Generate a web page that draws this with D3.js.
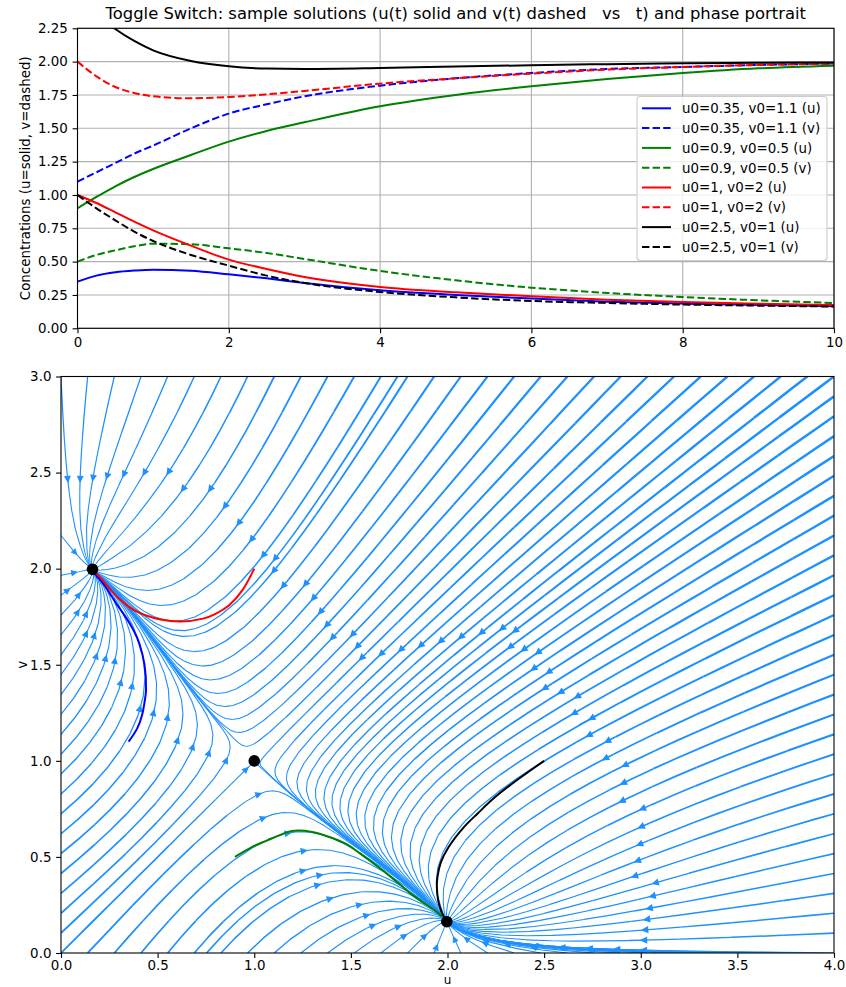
<!DOCTYPE html>
<html>
<head>
<meta charset="utf-8">
<script src="https://cdn.jsdelivr.net/npm/d3@7"></script>
<style>
html,body{margin:0;padding:0;background:#fff;}
svg{display:block;}
text{font-family:"DejaVu Sans",Verdana,sans-serif;fill:#000;}
</style>
</head>
<body>
<svg id="fig" width="846" height="987" xmlns="http://www.w3.org/2000/svg"></svg>
<script>
// ---------------- data ----------------
const titleText = "Toggle Switch: sample solutions (u(t) solid and v(t) dashed   vs   t) and phase portrait";
const tSamples = [0, 0.25, 0.5, 0.75, 1, 1.5, 2, 2.5, 3, 4, 5, 6, 7, 8, 9, 10];
const uBlue  = [0.35, 0.395, 0.42, 0.433, 0.44, 0.432, 0.405, 0.375, 0.34, 0.285, 0.25, 0.223, 0.20, 0.185, 0.175, 0.166];
const vBlue  = [1.1, 1.17, 1.24, 1.31, 1.37, 1.50, 1.61, 1.68, 1.74, 1.82, 1.875, 1.915, 1.945, 1.96, 1.975, 1.985];
const uGreen = [0.9, 0.985, 1.065, 1.135, 1.195, 1.30, 1.40, 1.48, 1.545, 1.665, 1.75, 1.815, 1.87, 1.915, 1.95, 1.97];
const vGreen = [0.5, 0.55, 0.585, 0.615, 0.635, 0.63, 0.60, 0.565, 0.52, 0.43, 0.36, 0.305, 0.265, 0.235, 0.21, 0.19];
const uRed   = [1.0, 0.94, 0.87, 0.80, 0.735, 0.62, 0.515, 0.445, 0.385, 0.31, 0.27, 0.24, 0.215, 0.197, 0.184, 0.175];
const vRed   = [2.0, 1.89, 1.81, 1.765, 1.74, 1.725, 1.735, 1.755, 1.78, 1.835, 1.875, 1.91, 1.94, 1.96, 1.975, 1.985];
const uBlack = [2.5, 2.36, 2.245, 2.155, 2.085, 2.005, 1.965, 1.948, 1.945, 1.952, 1.963, 1.973, 1.981, 1.987, 1.991, 1.994];
const vBlack = [1.0, 0.90, 0.81, 0.725, 0.655, 0.55, 0.47, 0.395, 0.34, 0.272, 0.232, 0.205, 0.19, 0.178, 0.17, 0.163];

const caseLabels = ["u0=0.35, v0=1.1", "u0=0.9, v0=0.5", "u0=1, v0=2", "u0=2.5, v0=1"];
const caseColors = ["#0000ff", "#008000", "#ff0000", "#000000"];
const caseU = [uBlue, uGreen, uRed, uBlack];
const caseV = [vBlue, vGreen, vRed, vBlack];

// fixed points (stable, saddle, stable)
const fixedU = [0.163, 1.0, 1.9965];
const fixedV = [1.9965, 1.0, 0.163];

// vector field of the model (for the stream plot)
const ALPHA = 2.0;
const HILL = 3.5;

// ticks
const topXTicks = [0, 2, 4, 6, 8, 10];
const topXLabels = ["0", "2", "4", "6", "8", "10"];
const topYTicks = [0, 0.25, 0.5, 0.75, 1.0, 1.25, 1.5, 1.75, 2.0, 2.25];
const topYLabels = ["0.00", "0.25", "0.50", "0.75", "1.00", "1.25", "1.50", "1.75", "2.00", "2.25"];
const botXTicks = [0, 0.5, 1, 1.5, 2, 2.5, 3, 3.5, 4];
const botXLabels = ["0.0", "0.5", "1.0", "1.5", "2.0", "2.5", "3.0", "3.5", "4.0"];
const botYTicks = [0, 0.5, 1, 1.5, 2, 2.5, 3];
const botYLabels = ["0.0", "0.5", "1.0", "1.5", "2.0", "2.5", "3.0"];

// ---------------- layout ----------------
const svg = d3.select("#fig");
const FS = 13.4;
const TICK = 4.9;
const topBox = {l: 77.5, r: 834, t: 28.3, b: 328.3};
const botBox = {l: 61, r: 834, t: 376.5, b: 953};

const xT = d3.scaleLinear().domain([0, 10]).range([topBox.l, topBox.r]);
const yT = d3.scaleLinear().domain([0, 2.25]).range([topBox.b, topBox.t]);
const xB = d3.scaleLinear().domain([0, 4]).range([botBox.l, botBox.r]);
const yB = d3.scaleLinear().domain([0, 3]).range([botBox.b, botBox.t]);

const defs = svg.append("defs");
defs.append("clipPath").attr("id", "clipTop").append("rect")
  .attr("x", topBox.l).attr("y", topBox.t).attr("width", topBox.r - topBox.l).attr("height", topBox.b - topBox.t);
defs.append("clipPath").attr("id", "clipBot").append("rect")
  .attr("x", botBox.l).attr("y", botBox.t).attr("width", botBox.r - botBox.l).attr("height", botBox.b - botBox.t);

// title
svg.append("text").attr("x", (topBox.l + topBox.r) / 2).attr("y", 18.5)
  .attr("text-anchor", "middle").style("font-size", "16.4px").style("white-space", "pre")
  .text(titleText);

// ---------------- top axes ----------------
const gTop = svg.append("g");
gTop.append("g").selectAll("line").data(topXTicks).join("line")
  .attr("x1", d => xT(d)).attr("x2", d => xT(d)).attr("y1", topBox.t).attr("y2", topBox.b)
  .attr("stroke", "#b0b0b0").attr("stroke-width", 1.1);
gTop.append("g").selectAll("line").data(topYTicks).join("line")
  .attr("y1", d => yT(d)).attr("y2", d => yT(d)).attr("x1", topBox.l).attr("x2", topBox.r)
  .attr("stroke", "#b0b0b0").attr("stroke-width", 1.1);

const tsLine = (vals) => d3.line().x((d, i) => xT(tSamples[i])).y(d => yT(d)).curve(d3.curveMonotoneX)(vals);
const gLines = gTop.append("g").attr("clip-path", "url(#clipTop)");
for (let k = 0; k < 4; k++) {
  gLines.append("path").attr("d", tsLine(caseU[k])).attr("fill", "none")
    .attr("stroke", caseColors[k]).attr("stroke-width", 2);
  gLines.append("path").attr("d", tsLine(caseV[k])).attr("fill", "none")
    .attr("stroke", caseColors[k]).attr("stroke-width", 2).attr("stroke-dasharray", "7.4,3.2");
}

function styleAxis(g) {
  g.select(".domain").remove();
  g.attr("font-family", "DejaVu Sans, Verdana, sans-serif").attr("font-size", FS);
  g.selectAll(".tick line").attr("stroke", "#000").attr("stroke-width", 1.1);
  g.selectAll(".tick text").attr("fill", "#000");
}
svg.append("g").attr("transform", `translate(0,${topBox.b})`)
  .call(d3.axisBottom(xT).tickValues(topXTicks).tickFormat((d, i) => topXLabels[i]).tickSize(TICK).tickPadding(4.5))
  .call(styleAxis);
svg.append("g").attr("transform", `translate(${topBox.l},0)`)
  .call(d3.axisLeft(yT).tickValues(topYTicks).tickFormat((d, i) => topYLabels[i]).tickSize(TICK).tickPadding(4.7))
  .call(styleAxis);
svg.append("rect").attr("x", topBox.l).attr("y", topBox.t).attr("width", topBox.r - topBox.l)
  .attr("height", topBox.b - topBox.t).attr("fill", "none").attr("stroke", "#000").attr("stroke-width", 1.1);
svg.append("text").attr("transform", `translate(29.5,${(topBox.t + topBox.b) / 2}) rotate(-90)`)
  .attr("text-anchor", "middle").style("font-size", FS + "px").text("Concentrations (u=solid, v=dashed)");

// legend
const leg = svg.append("g");
leg.append("rect").attr("x", 637).attr("y", 96.5).attr("width", 190).attr("height", 164).attr("rx", 3)
  .attr("fill", "#fff").attr("fill-opacity", 0.8).attr("stroke", "#cccccc").attr("stroke-width", 1.1);
for (let k = 0; k < 4; k++) {
  for (let j = 0; j < 2; j++) {
    const row = 2 * k + j;
    const y = 108.3 + row * 19.8;
    const ln = leg.append("line").attr("x1", 642).attr("x2", 671).attr("y1", y).attr("y2", y)
      .attr("stroke", caseColors[k]).attr("stroke-width", 2);
    if (j === 1) ln.attr("stroke-dasharray", "7.4,3.2");
    leg.append("text").attr("x", 682).attr("y", y).attr("dy", "0.36em").style("font-size", FS + "px")
      .text(caseLabels[k] + (j === 0 ? " (u)" : " (v)"));
  }
}

// ---------------- stream plot (matplotlib-style algorithm, unbroken streamlines) ----------------
const fu = (u, v) => ALPHA / (1 + Math.pow(v, HILL)) - u;
const fv = (u, v) => ALPHA / (1 + Math.pow(u, HILL)) - v;
const NG = 30, MN = 30;
const BROKEN = false;
const U0 = 0, U1 = 4, V0 = 0, V1 = 3;
const gdx = (U1 - U0) / (NG - 1), gdy = (V1 - V0) / (NG - 1);
const Ug = new Float64Array(NG * NG), Vg = new Float64Array(NG * NG), SP = new Float64Array(NG * NG), MAG = new Float64Array(NG * NG);
let maxMag = 0;
for (let j = 0; j < NG; j++) for (let i = 0; i < NG; i++) {
  const u = U0 + i * gdx, v = V0 + j * gdy;
  const du = fu(u, v), dv = fv(u, v);
  const k = j * NG + i;
  Ug[k] = du / gdx; Vg[k] = dv / gdy;
  SP[k] = Math.hypot(Ug[k] / (NG - 1), Vg[k] / (NG - 1));
  MAG[k] = Math.hypot(du, dv);
  if (MAG[k] > maxMag) maxMag = MAG[k];
}
const LWF = new Float64Array(NG * NG);
for (let k = 0; k < NG * NG; k++) LWF[k] = 0.95 + 1.6 * MAG[k] / maxMag;

function interp(a, xi, yi) {
  const x = Math.floor(xi), y = Math.floor(yi);
  const xn = (x === NG - 1) ? x : x + 1;
  const yn = (y === NG - 1) ? y : y + 1;
  const a00 = a[y * NG + x], a01 = a[y * NG + xn], a10 = a[yn * NG + x], a11 = a[yn * NG + xn];
  const xt = xi - x, yt = yi - y;
  const a0 = a00 * (1 - xt) + a01 * xt;
  const a1 = a10 * (1 - xt) + a11 * xt;
  return a0 * (1 - yt) + a1 * yt;
}
const OOB = {n: "oob"}, TERM = {n: "term"}, INVALID = {n: "invalid"};
const within = (xi, yi) => xi >= 0 && xi <= NG - 1 && yi >= 0 && yi <= NG - 1;
function fwd(xi, yi) {
  if (!within(xi, yi)) throw OOB;
  const s = interp(SP, xi, yi);
  if (s === 0) throw TERM;
  const dt = 1 / s;
  return [interp(Ug, xi, yi) * dt, interp(Vg, xi, yi) * dt];
}
function bwd(xi, yi) { const r = fwd(xi, yi); return [-r[0], -r[1]]; }

function pyRound(x) {
  const f = Math.floor(x), d = x - f;
  if (d > 0.5) return f + 1;
  if (d < 0.5) return f;
  return (f % 2 === 0) ? f : f + 1;
}
const mask = new Uint8Array(MN * MN);
let curTraj = [], curXY = null;
const g2m = (MN - 1) / (NG - 1), m2g = 1 / g2m;
function maskUpdate(xm, ym) {
  if (curXY === null || curXY[0] !== xm || curXY[1] !== ym) {
    if (mask[ym * MN + xm] === 0) {
      curTraj.push(ym * MN + xm);
      mask[ym * MN + xm] = 1;
      curXY = [xm, ym];
    } else if (BROKEN) throw INVALID;
  }
}
function dmapUpdate(xg, yg) {
  if (!within(xg, yg)) throw INVALID;
  maskUpdate(pyRound(xg * g2m), pyRound(yg * g2m));
}
function eulerStep(traj, f) {
  const [xi, yi] = traj[traj.length - 1];
  const [cx, cy] = f(xi, yi);
  let dsx, dsy;
  if (cx === 0) dsx = Infinity; else if (cx < 0) dsx = xi / -cx; else dsx = (NG - 1 - xi) / cx;
  if (cy === 0) dsy = Infinity; else if (cy < 0) dsy = yi / -cy; else dsy = (NG - 1 - yi) / cy;
  const ds = Math.min(dsx, dsy);
  traj.push([xi + cx * ds, yi + cy * ds]);
  return ds;
}
const MAXLEN = 4.0, MINLEN = 0.1;
function rk12(x0, y0, f) {
  const maxerror = 0.003, maxds = Math.min(1 / MN, 1 / MN, 0.1);
  let ds = maxds, stotal = 0, xi = x0, yi = y0;
  const traj = [];
  let guard = 0;
  while (guard++ < 60000) {
    let k1, k2;
    try {
      if (within(xi, yi)) traj.push([xi, yi]); else throw OOB;
      k1 = f(xi, yi);
      k2 = f(xi + ds * k1[0], yi + ds * k1[1]);
    } catch (e) {
      if (e === OOB) {
        if (traj.length) {
          try { stotal += eulerStep(traj, f); } catch (e2) {}
        }
        break;
      } else if (e === TERM) break;
      else throw e;
    }
    const dx1 = ds * k1[0], dy1 = ds * k1[1];
    const dx2 = ds * 0.5 * (k1[0] + k2[0]), dy2 = ds * 0.5 * (k1[1] + k2[1]);
    const error = Math.hypot((dx2 - dx1) / (NG - 1), (dy2 - dy1) / (NG - 1));
    if (error < maxerror) {
      xi += dx2; yi += dy2;
      try { dmapUpdate(xi, yi); } catch (e) { if (e === INVALID) break; else throw e; }
      if (stotal + ds > MAXLEN) break;
      stotal += ds;
    }
    if (error === 0) ds = maxds;
    else ds = Math.min(maxds, 0.85 * ds * Math.sqrt(maxerror / error));
  }
  return [stotal, traj];
}
function integrate(x0, y0) {
  let stotal = 0;
  curTraj = [];
  try { maskUpdate(pyRound(x0 * g2m), pyRound(y0 * g2m)); }
  catch (e) { if (e === INVALID) return null; else throw e; }
  const [sb, tb] = rk12(x0, y0, bwd);
  stotal += sb;
  const pts = tb.slice().reverse();
  curXY = [pyRound(x0 * g2m), pyRound(y0 * g2m)];
  const [sf, tf] = rk12(x0, y0, fwd);
  stotal += sf;
  for (let i = 1; i < tf.length; i++) pts.push(tf[i]);
  if (stotal > MINLEN) return pts;
  for (const idx of curTraj) mask[idx] = 0;
  return null;
}
function* startingPoints(nx, ny) {
  let xfirst = 0, yfirst = 1, xlast = nx - 1, ylast = ny - 1, x = 0, y = 0, dir = "right";
  for (let i = 0; i < nx * ny; i++) {
    yield [x, y];
    if (dir === "right") { x += 1; if (x >= xlast) { xlast -= 1; dir = "up"; } }
    else if (dir === "up") { y += 1; if (y >= ylast) { ylast -= 1; dir = "left"; } }
    else if (dir === "left") { x -= 1; if (x <= xfirst) { xfirst += 1; dir = "down"; } }
    else { y -= 1; if (y <= yfirst) { yfirst += 1; dir = "right"; } }
  }
}
const streams = [];
for (const [xm, ym] of startingPoints(MN, MN)) {
  if (mask[ym * MN + xm] === 0) {
    const t = integrate(xm * m2g, ym * m2g);
    if (t) streams.push(t);
  }
}

// ---------------- bottom axes ----------------
const STREAM_COLOR = "#1e90ff";
const gBot = svg.append("g").attr("clip-path", "url(#clipBot)");
const gStream = gBot.append("g");
const gArrows = gBot.append("g");
for (const t of streams) {
  const tx = t.map(p => U0 + p[0] * gdx), ty = t.map(p => V0 + p[1] * gdy);
  const widths = t.map(p => interp(LWF, p[0], p[1]));
  let start = 0;
  while (start < t.length - 1) {
    let end = start + 1;
    const w0 = widths[start];
    while (end < t.length - 1 && Math.abs(widths[end] - w0) < 0.08) end++;
    let d = "";
    for (let i = start; i <= end; i++) d += (i === start ? "M" : "L") + xB(tx[i]).toFixed(2) + "," + yB(ty[i]).toFixed(2);
    gStream.append("path").attr("d", d).attr("fill", "none").attr("stroke", STREAM_COLOR)
      .attr("stroke-width", w0).attr("stroke-linejoin", "round").attr("stroke-linecap", "butt");
    start = end;
  }
  const s = [];
  let acc = 0;
  for (let i = 0; i < tx.length - 1; i++) { acc += Math.hypot(tx[i + 1] - tx[i], ty[i + 1] - ty[i]); s.push(acc); }
  if (s.length === 0) continue;
  const half = s[s.length - 1] / 2;
  let n = d3.bisectLeft(s, half);
  if (n >= tx.length - 1) n = tx.length - 2;
  const tail = [xB(tx[n]), yB(ty[n])];
  const head = [xB((tx[n] + tx[n + 1]) / 2), yB((ty[n] + ty[n + 1]) / 2)];
  let ddx = head[0] - tail[0], ddy = head[1] - tail[1];
  const L = Math.hypot(ddx, ddy);
  if (L === 0) continue;
  ddx /= L; ddy /= L;
  const HL = 5.4, HW = 2.6;
  const bx = head[0] - ddx * HL, by = head[1] - ddy * HL;
  const pts = [[head[0], head[1]], [bx - ddy * HW, by + ddx * HW], [bx + ddy * HW, by - ddx * HW]];
  const aw = Math.min(widths[n], 1.3);
  gArrows.append("path").attr("d", "M" + pts.map(p => p[0].toFixed(2) + "," + p[1].toFixed(2)).join("L") + "Z")
    .attr("fill", STREAM_COLOR).attr("stroke", STREAM_COLOR).attr("stroke-width", aw).attr("stroke-linejoin", "miter");
}

// trajectories in phase plane
const phaseLine = d3.line().x(d => xB(d[0])).y(d => yB(d[1])).curve(d3.curveCatmullRom.alpha(0.5));
for (let k = 0; k < 4; k++) {
  const pts = caseU[k].map((u, i) => [u, caseV[k][i]]);
  gBot.append("path").attr("d", phaseLine(pts)).attr("fill", "none")
    .attr("stroke", caseColors[k]).attr("stroke-width", 2);
}
gBot.append("g").selectAll("circle").data(fixedU).join("circle")
  .attr("cx", d => xB(d)).attr("cy", (d, i) => yB(fixedV[i])).attr("r", 5.8).attr("fill", "#000");

svg.append("g").attr("transform", `translate(0,${botBox.b})`)
  .call(d3.axisBottom(xB).tickValues(botXTicks).tickFormat((d, i) => botXLabels[i]).tickSize(TICK).tickPadding(2.4))
  .call(styleAxis);
svg.append("g").attr("transform", `translate(${botBox.l},0)`)
  .call(d3.axisLeft(yB).tickValues(botYTicks).tickFormat((d, i) => botYLabels[i]).tickSize(TICK).tickPadding(4.7))
  .call(styleAxis);
svg.append("rect").attr("x", botBox.l).attr("y", botBox.t).attr("width", botBox.r - botBox.l)
  .attr("height", botBox.b - botBox.t).attr("fill", "none").attr("stroke", "#000").attr("stroke-width", 1.1);
svg.append("text").attr("x", (botBox.l + botBox.r) / 2).attr("y", 984.2).attr("text-anchor", "middle")
  .style("font-size", "12px").text("u");
svg.append("text").attr("transform", `translate(26.5,${(botBox.t + botBox.b) / 2}) rotate(-90)`)
  .attr("text-anchor", "middle").style("font-size", FS + "px").text("v");
</script>
</body>
</html>
